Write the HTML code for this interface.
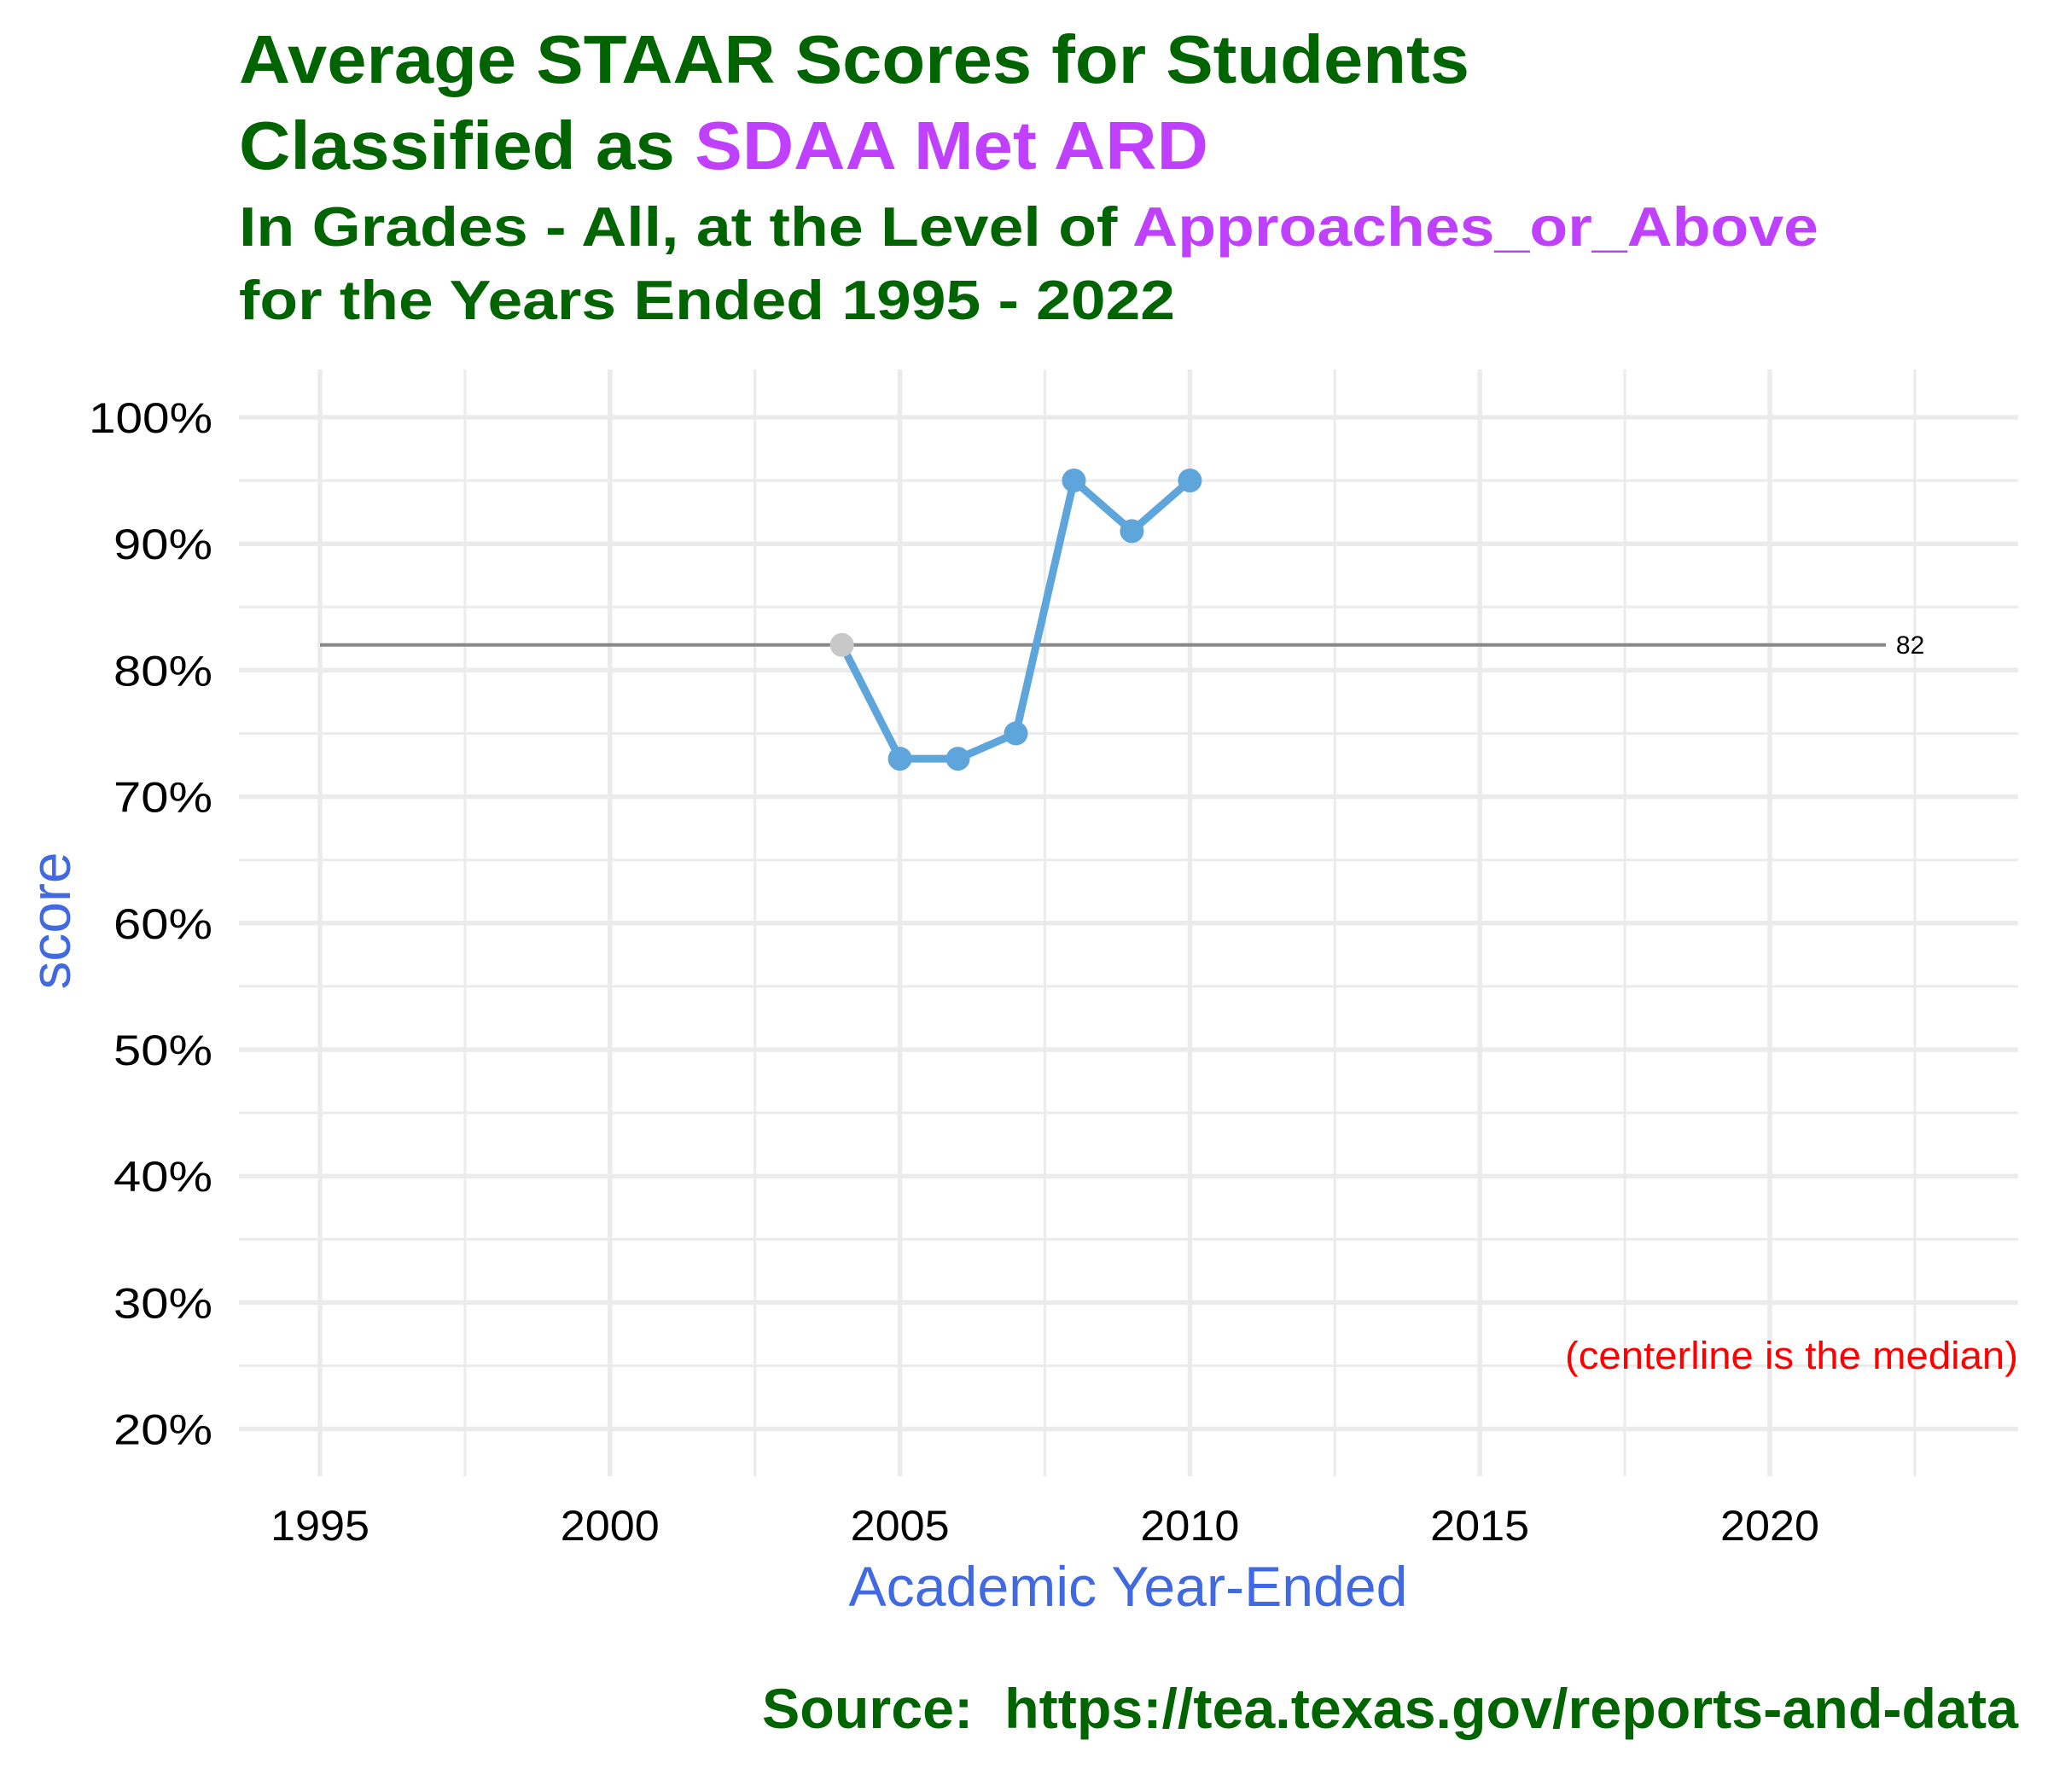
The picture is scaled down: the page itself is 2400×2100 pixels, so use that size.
<!DOCTYPE html>
<html><head><meta charset="utf-8"><style>
html,body{margin:0;padding:0;background:#fff;}
svg{display:block;font-family:"Liberation Sans",Arial,sans-serif;}
</style></head><body>
<svg id="chart" width="2400" height="2100" viewBox="0 0 2400 2100">
<rect width="2400" height="2100" fill="#fff"/>
<g font-weight="bold" fill="#006400">
<text x="280" y="97" font-size="80" textLength="1442" lengthAdjust="spacingAndGlyphs">Average STAAR Scores for Students</text>
<text x="280" y="198" font-size="80" textLength="1136" lengthAdjust="spacingAndGlyphs">Classified as <tspan fill="#BF40FF">SDAA Met ARD</tspan></text>
</g>
<g font-weight="bold" fill="#006400">
<text x="280" y="288" font-size="65" textLength="1851" lengthAdjust="spacingAndGlyphs">In Grades - All, at the Level of <tspan fill="#BF40FF">Approaches_or_Above</tspan></text>
<text x="280" y="374" font-size="65" textLength="1097" lengthAdjust="spacingAndGlyphs">for the Years Ended 1995 - 2022</text>
</g>
<g id="grid"></g>
<g id="yticks" font-size="50" text-anchor="end" fill="#000"></g>
<g id="xticks" font-size="50" text-anchor="middle" fill="#000"></g>
<g id="marks"></g>
<text x="1322" y="1882" font-size="66" text-anchor="middle" fill="#4169E1" textLength="655" lengthAdjust="spacingAndGlyphs">Academic Year-Ended</text>
<text transform="translate(82,1079) rotate(-90)" font-size="66" text-anchor="middle" fill="#4169E1" textLength="161" lengthAdjust="spacingAndGlyphs">score</text>
<text x="2365" y="1604" font-size="45" text-anchor="end" fill="#FF0000" textLength="531" lengthAdjust="spacingAndGlyphs">(centerline is the median)</text>
<text x="2365" y="2025" font-size="66" font-weight="bold" text-anchor="end" fill="#006400" textLength="1472" lengthAdjust="spacingAndGlyphs" xml:space="preserve">Source:  https://tea.texas.gov/reports-and-data</text>
</svg>
<script>
const years = [2004, 2005, 2006, 2007, 2008, 2009, 2010];
const scores = [82, 73, 73, 75, 95, 91, 95];
const medianValue = 82;
const medianRange = [1995, 2022];
const xTicks = [1995, 2000, 2005, 2010, 2015, 2020];
const yTicks = [20, 30, 40, 50, 60, 70, 80, 90, 100];

const NS = "http://www.w3.org/2000/svg";
const X = y => 375 + (y - 1995) * 67.96;
const Y = v => 489 + (100 - v) * 14.82;
const L = 280, R = 2365, T = 433, B = 1730;
function mk(tag, attrs, parent){const e=document.createElementNS(NS,tag);for(const k in attrs)e.setAttribute(k,attrs[k]);parent.appendChild(e);return e;}
const grid=document.getElementById('grid');
for(let i=0;i<yTicks.length-1;i++){const v=(yTicks[i]+yTicks[i+1])/2;
 const l=mk('line',{x1:L,x2:R,y1:Y(v),y2:Y(v),stroke:'#EBEBEB','stroke-width':3},grid);
 
 }
for(let i=0;i<xTicks.length;i++){const v=xTicks[i]+2.5;
 const l=mk('line',{x1:X(v),x2:X(v),y1:T,y2:B,stroke:'#EBEBEB','stroke-width':3},grid);
 
 }
for(const v of yTicks){
 const l=mk('line',{x1:L,x2:R,y1:Y(v),y2:Y(v),stroke:'#EBEBEB','stroke-width':5.5},grid);
 
 
 const t=mk('text',{x:249,y:Y(v)+18,textLength:(String(v).length===3?145:116),lengthAdjust:'spacingAndGlyphs'},document.getElementById('yticks'));t.textContent=v+'%';
 
 }
for(const v of xTicks){
 const l=mk('line',{x1:X(v),x2:X(v),y1:T,y2:B,stroke:'#EBEBEB','stroke-width':5.5},grid);
 
 
 const t=mk('text',{x:X(v),y:1805,textLength:116,lengthAdjust:'spacingAndGlyphs'},document.getElementById('xticks'));t.textContent=v;
 
 }
const marks=document.getElementById('marks');
const ml=mk('line',{x1:X(medianRange[0]),x2:X(medianRange[1]),y1:Y(medianValue),y2:Y(medianValue),stroke:'#888','stroke-width':4},marks);


const mt=mk('text',{x:X(medianRange[1])+12,y:Y(medianValue)+10,'font-size':30,fill:'#000'},marks);mt.textContent=medianValue;


const pl=mk('polyline',{points:years.map((y,i)=>X(y)+','+Y(scores[i])).join(' '),fill:'none',stroke:'#5DA5DA','stroke-width':9,'stroke-linejoin':'round'},marks);


years.forEach((y,i)=>{
 const c=mk('circle',{cx:X(y),cy:Y(scores[i]),r:14,fill:i===0?'#C8C8C8':'#5DA5DA'},marks);
 
 
});
</script>
</body></html>
